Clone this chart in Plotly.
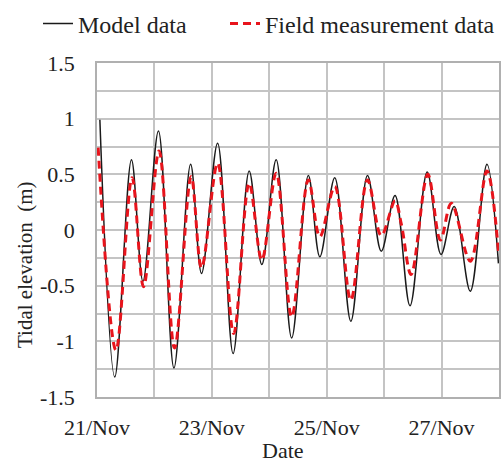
import pandas as pd
import plotly.graph_objects as go

# Day-of-November (fractional) and tidal elevation (m)
model_day = [21.05, 21.31, 21.60, 21.80, 22.07, 22.34, 22.63, 22.82, 23.10, 23.37,
             23.65, 23.87, 24.12, 24.39, 24.68, 24.88, 25.14, 25.42, 25.71, 25.95,
             26.19, 26.45, 26.75, 26.99, 27.22, 27.50, 27.79, 27.99]
model_val = [0.99, -1.32, 0.63, -0.46, 0.89, -1.24, 0.59, -0.39, 0.78, -1.11,
             0.53, -0.31, 0.63, -0.97, 0.49, -0.24, 0.47, -0.82, 0.49, -0.19,
             0.31, -0.68, 0.52, -0.22, 0.21, -0.55, 0.59, -0.30]

field_day = [21.02, 21.33, 21.61, 21.81, 22.08, 22.35, 22.64, 22.82, 23.10, 23.38,
             23.65, 23.87, 24.12, 24.39, 24.68, 24.88, 25.14, 25.42, 25.71, 25.95,
             26.19, 26.30, 26.47, 26.76, 26.98, 27.17, 27.50, 27.79, 27.99]
field_val = [0.74, -1.08, 0.47, -0.51, 0.71, -1.06, 0.48, -0.34, 0.60, -0.93,
             0.42, -0.27, 0.51, -0.78, 0.45, -0.06, 0.39, -0.63, 0.45, -0.05,
             0.26, 0.05, -0.40, 0.50, -0.09, 0.24, -0.28, 0.53, -0.19]

y_ticks = [-1.5, -1, -0.5, 0, 0.5, 1, 1.5]
y_tick_text = ["-1.5", "-1", "-0.5", "0", "0.5", "1", "1.5"]

base = pd.Timestamp("2013-11-01")


def to_time(days):
    return [base + pd.to_timedelta(d - 1, unit="D") for d in days]


FONT = "Liberation Serif, Times New Roman, serif"
FS = 22
TXT = "#222222"
GRID = "#c4c4c4"

L, R, T, B = 97, 5, 63, 65
pw, ph = 504 - L - R, 462 - T - B


def px(x):
    return (x - L) / pw


def py(y):
    return (462 - B - y) / ph


fig = go.Figure()
fig.add_trace(go.Scatter(x=to_time(model_day), y=model_val, mode="lines",
                         name="Model data", legend="legend",
                         line=dict(color="#1a1a1a", width=1.5, shape="spline", smoothing=1)))
fig.add_trace(go.Scatter(x=to_time(field_day), y=field_val, mode="lines",
                         name="Field measurement data", legend="legend2",
                         line=dict(color="#e8141c", width=3, dash="8px,5px", shape="spline", smoothing=1)))

leg_common = dict(orientation="h", xanchor="left", yanchor="middle",
                  font=dict(family=FONT, size=24, color=TXT), itemwidth=30,
                  bgcolor="rgba(0,0,0,0)")

fig.update_layout(
    width=504, height=462,
    margin=dict(l=L, r=R, t=T, b=B, autoexpand=False),
    paper_bgcolor="white", plot_bgcolor="white",
    font=dict(family=FONT, size=FS, color=TXT),
    showlegend=True,
    legend=dict(x=px(38), y=py(24), **leg_common),
    legend2=dict(x=px(225), y=py(24), **leg_common),
    xaxis=dict(
        type="date",
        range=[base + pd.Timedelta(days=20), base + pd.Timedelta(days=27)],
        tickformat="%d/%b", dtick=2 * 86400000, tick0=base + pd.Timedelta(days=20),
        showgrid=True, gridcolor=GRID, gridwidth=1.5,
        minor=dict(dtick=86400000, showgrid=True, gridcolor=GRID, gridwidth=1.5),
        showline=True, linecolor="#b0b0b0", linewidth=1.5, mirror=True,
        ticks="", ticklabelstandoff=10, zeroline=False,
        tickfont=dict(family=FONT, size=FS, color=TXT),
    ),
    yaxis=dict(
        range=[-1.5, 1.5], tickvals=y_ticks, ticktext=y_tick_text,
        showgrid=True, gridcolor=GRID, gridwidth=1.5,
        minor=dict(dtick=0.25, showgrid=True, gridcolor=GRID, gridwidth=1.5),
        showline=True, linecolor="#b0b0b0", linewidth=1.5, mirror=True,
        ticks="", ticklabelstandoff=16, zeroline=False,
        tickfont=dict(family=FONT, size=FS, color=TXT),
    ),
)

fig.add_annotation(text="Date", xref="paper", yref="paper",
                   x=px(283), y=py(450),
                   xanchor="center", yanchor="middle", showarrow=False,
                   font=dict(family=FONT, size=FS, color=TXT))
fig.add_annotation(text="Tidal elevation  (m)", textangle=-90, xref="paper", yref="paper",
                   x=px(25), y=py(265),
                   xanchor="center", yanchor="middle", showarrow=False,
                   font=dict(family=FONT, size=21, color=TXT))

fig.write_html("out.html")
